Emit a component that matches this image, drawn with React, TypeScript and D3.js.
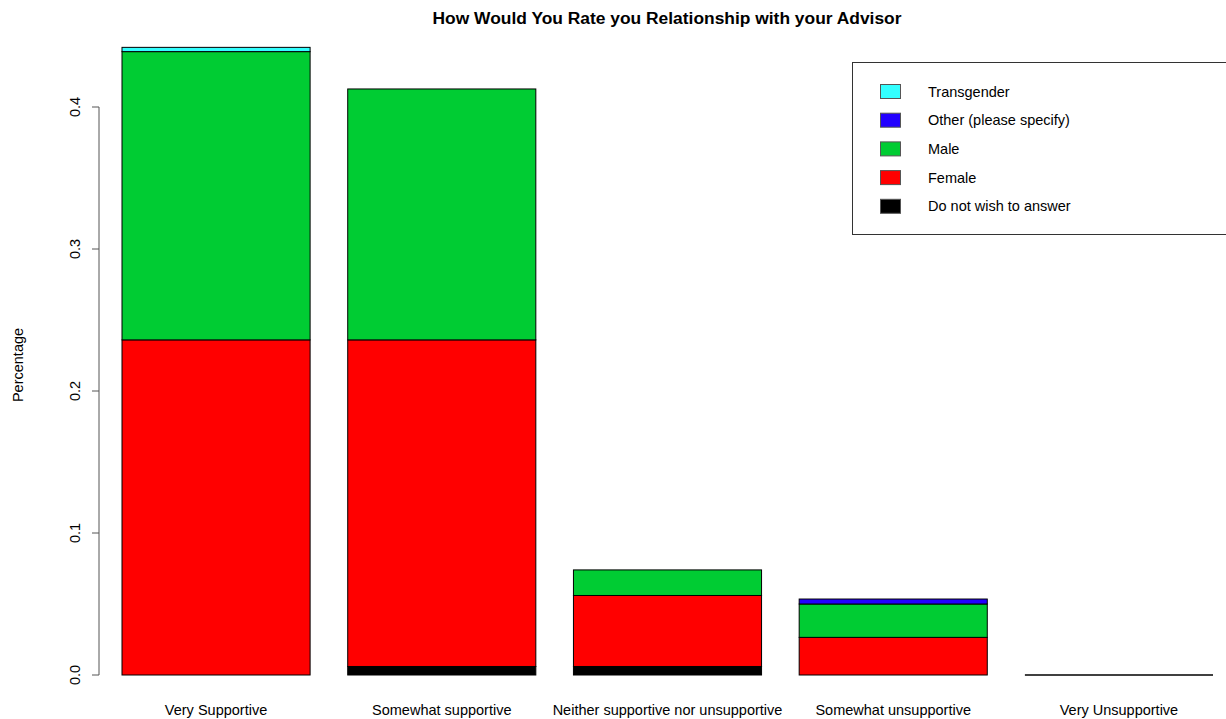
import React from "react";
import * as d3 from "d3";

const categories = [
  "Very Supportive",
  "Somewhat supportive",
  "Neither supportive nor unsupportive",
  "Somewhat unsupportive",
  "Very Unsupportive",
];
// stacked bottom to top
const doNotWish = [0, 0.006, 0.006, 0, 0];
const female = [0.236, 0.230, 0.050, 0.0265, 0];
const male = [0.203, 0.1767, 0.018, 0.0235, 0];
const other = [0, 0, 0, 0.0035, 0];
const transgender = [0.003, 0, 0, 0, 0];

const seriesNames = ["Do not wish to answer", "Female", "Male", "Other (please specify)", "Transgender"];
const seriesColors = ["#000000", "#FF0000", "#00CC33", "#2200FF", "#33FFFF"];
const yTicks = [0, 0.1, 0.2, 0.3, 0.4];
const title = "How Would You Rate you Relationship with your Advisor";
const yLabel = "Percentage";

const FONT = "'Liberation Sans', Arial, Helvetica, sans-serif";
const FS = 14.5;

export default function App() {
  const W = 1226, H = 719;
  const x = d3.scaleBand<string>().domain(categories).range([122, 1213]).paddingInner(0.2 / 1.2).paddingOuter(0);
  const y = d3.scaleLinear().domain([0, 0.4]).range([675, 107]);
  const seriesData = [doNotWish, female, male, other, transgender];
  const table = categories.map((c, i) => {
    const row: any = { cat: c };
    seriesNames.forEach((s, k) => (row[s] = seriesData[k][i]));
    return row;
  });
  const stack = d3.stack<any>().keys(seriesNames)(table);
  const axisX = 99;
  const legendOrder = [4, 3, 2, 1, 0];

  return (
    <svg width={W} height={H} style={{ position: "absolute", left: 0, top: 0, background: "#fff" }} fontFamily={FONT}>
      <rect x={0} y={0} width={W} height={H} fill="#fff" />
      <text x={667} y={24} textAnchor="middle" fontWeight="bold" fontSize={FS * 1.2}>{title}</text>
      {stack.map((layer, k) =>
        layer.map((d, i) => {
          const v = d[1] - d[0];
          if (v <= 0) return null;
          return (
            <rect
              key={`${k}-${i}`}
              x={x(categories[i])}
              y={y(d[1])}
              width={x.bandwidth()}
              height={y(d[0]) - y(d[1])}
              fill={seriesColors[k]}
              stroke="#000"
              strokeWidth={1}
            />
          );
        })
      )}
      {categories.map((c, i) => {
        const total = seriesData.reduce((a, s) => a + s[i], 0);
        if (total > 0) return null;
        return <line key={c} x1={x(c)} x2={(x(c) as number) + x.bandwidth()} y1={y(0)} y2={y(0)} stroke="#000" strokeWidth={1.5} />;
      })}
      {categories.map((c) => (
        <text key={c} x={(x(c) as number) + x.bandwidth() / 2} y={715} textAnchor="middle" fontSize={FS}>{c}</text>
      ))}
      <line x1={axisX} x2={axisX} y1={y(0)} y2={y(0.4)} stroke="#555" strokeWidth={1} />
      {yTicks.map((t) => (
        <g key={t}>
          <line x1={axisX - 7} x2={axisX} y1={y(t)} y2={y(t)} stroke="#555" strokeWidth={1} />
          <text transform={`translate(80,${y(t)}) rotate(-90)`} textAnchor="middle" fontSize={FS}>{t.toFixed(1)}</text>
        </g>
      ))}
      <text transform={`translate(23,365) rotate(-90)`} textAnchor="middle" fontSize={FS}>{yLabel}</text>
      <rect x={852.5} y={62.5} width={400} height={172} fill="none" stroke="#333" strokeWidth={1} />
      {legendOrder.map((k, j) => (
        <g key={k}>
          <rect x={880.5} y={84.5 + j * 28.7} width={20} height={14} fill={seriesColors[k]} stroke="#555" strokeWidth={1} />
          <text x={928} y={96.5 + j * 28.7} fontSize={FS}>{seriesNames[k]}</text>
        </g>
      ))}
    </svg>
  );
}
